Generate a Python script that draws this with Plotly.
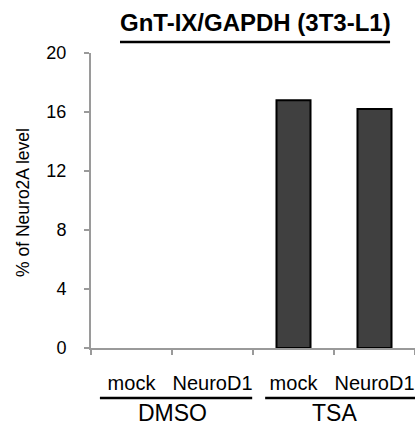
import plotly.graph_objects as go

# ---- data ----
categories = ["mock", "NeuroD1", "mock ", "NeuroD1 "]
tick_labels = ["mock", "NeuroD1", "mock", "NeuroD1"]
values = [0.0, 0.0, 16.8, 16.2]
groups = ["DMSO", "TSA"]
group_centers = [0.5, 2.5]
group_spans = [(-0.39, 1.49), (1.65, 3.5)]
y_ticks = [0, 4, 8, 12, 16, 20]
title_text = "GnT-IX/GAPDH (3T3-L1)"
y_title = "% of Neuro2A level"

FONT = "Liberation Sans, Arial, Helvetica, sans-serif"
AXIS_GRAY = "#9a9a9a"

fig = go.Figure()
fig.add_trace(go.Bar(
    x=categories, y=values, width=0.42,
    marker=dict(color="#404040",
                line=dict(color="#000000",
                          width=[2 if v > 0 else 0 for v in values])),
    showlegend=False, hoverinfo="skip",
))

fig.update_layout(
    width=415, height=425,
    margin=dict(l=91, r=0, t=53, b=77, autoexpand=False),
    paper_bgcolor="white", plot_bgcolor="white",
    font=dict(family=FONT, color="#000000"),
)

fig.update_xaxes(
    type="category", automargin=False,
    tickmode="array", tickvals=categories, ticktext=tick_labels,
    tickson="boundaries", tickangle=0,
    ticks="outside", ticklen=5, tickwidth=2, tickcolor=AXIS_GRAY,
    showline=True, linecolor=AXIS_GRAY, linewidth=2,
    showgrid=False, zeroline=False,
    tickfont=dict(size=20, family=FONT, color="#000000"),
    ticklabelstandoff=16,
    range=[-0.5, 3.5],
)
fig.update_yaxes(
    automargin=False,
    range=[0, 20], tickmode="array", tickvals=y_ticks,
    ticktext=[str(v) for v in y_ticks],
    ticks="outside", ticklen=5, tickwidth=2, tickcolor=AXIS_GRAY,
    showline=True, linecolor=AXIS_GRAY, linewidth=2,
    showgrid=False, zeroline=False,
    tickfont=dict(size=18, family=FONT, color="#000000"),
    ticklabelstandoff=14,
)

# title
fig.add_annotation(
    text="<b>" + title_text + "</b>", xref="paper", yref="paper",
    x=0.509, y=1.1017, xanchor="center", yanchor="middle",
    showarrow=False, font=dict(size=24, family=FONT, color="#000000"),
)
fig.add_shape(type="line", xref="paper", yref="paper",
              x0=0.0895, x1=0.923, y0=1.037, y1=1.037,
              line=dict(color="#000000", width=2.5))

# y axis title
fig.add_annotation(
    text=y_title, xref="paper", yref="paper",
    x=-0.21, y=0.495, xanchor="center", yanchor="middle", textangle=-90,
    showarrow=False, font=dict(size=17.5, family=FONT, color="#000000"),
)

# group labels and lines
for g, c, (a, b) in zip(groups, group_centers, group_spans):
    fig.add_shape(type="line", xref="x", yref="paper",
                  x0=a, x1=b, y0=-0.1695, y1=-0.1695,
                  line=dict(color="#000000", width=2.5))
    fig.add_annotation(
        text=g, xref="x", yref="paper", x=c, y=-0.222,
        xanchor="center", yanchor="middle", showarrow=False,
        font=dict(size=23, family=FONT, color="#000000"),
    )

fig.write_html(
    "out.html",
    config={"displayModeBar": False},
    post_script="document.body.style.margin='0';document.body.style.overflow='hidden';",
)
